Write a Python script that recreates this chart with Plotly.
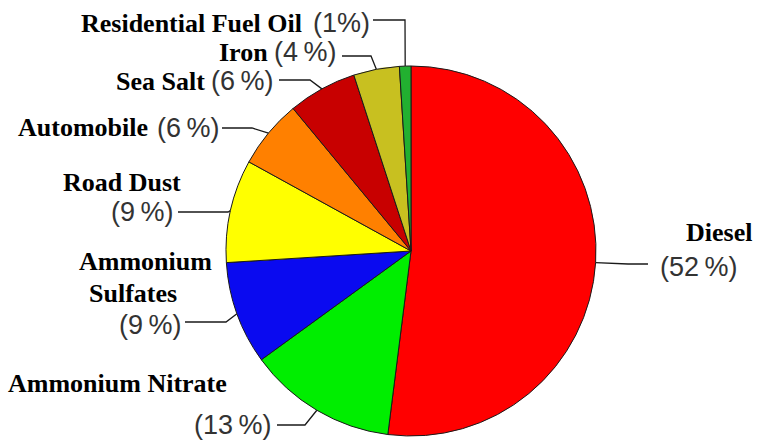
import math
import plotly.graph_objects as go

# Source shares of fine particulate matter (%)
sources = ["Diesel", "Ammonium Nitrate", "Ammonium Sulfates", "Road Dust",
           "Automobile", "Sea Salt", "Iron", "Residential Fuel Oil"]
shares = [52, 13, 9, 9, 6, 6, 4, 1]
pct_labels = ["(52\u2009%)", "(13\u2009%)", "(9\u2009%)", "(9\u2009%)",
              "(6\u2009%)", "(6\u2009%)", "(4\u2009%)", "(1%)"]
colors = ["#FF0000", "#00EE00", "#0A0AF0", "#FFFF00",
          "#FF8000", "#C80000", "#C8C020", "#22B030"]

W, H = 757, 444
CX, CY, R = 411, 251, 185  # pie centre and radius in pixels


def px(x):
    return x / W


def py(y):
    return 1 - y / H


fig = go.Figure(go.Pie(
    labels=sources,
    values=shares,
    sort=False,
    direction="clockwise",
    rotation=0,
    marker=dict(colors=colors, line=dict(color="#1a1a1a", width=1)),
    textinfo="none",
    hoverinfo="label+percent",
    showlegend=False,
    domain=dict(x=[px(CX - R), px(CX + R)], y=[py(CY + R), py(CY - R)]),
))

# Rim point at the middle of each slice
total = sum(shares)
rim = []
cum = 0
for v in shares:
    a = (cum + v / 2) / total * 2 * math.pi
    rim.append((CX + R * math.sin(a), CY - R * math.cos(a)))
    cum += v

# Label layout: (name lines [(text, x, y, xanchor)], percent (x, y, xanchor),
#                leader line start, elbow)
layout_spec = {
    "Diesel": ([("Diesel", 753, 232, "right")], (659, 267, "left"), (648, 264), (628, 264)),
    "Ammonium Nitrate": ([("Ammonium Nitrate", 228, 383, "right")], (272, 425, "right"),
                         (277, 425), (305, 425)),
    "Ammonium Sulfates": ([("Ammonium", 213, 261, "right"), ("Sulfates", 178, 293, "right")],
                          (182, 325, "right"), (185, 322), (226, 322)),
    "Road Dust": ([("Road Dust", 182, 182, "right")], (174, 212, "right"), (178, 212), (228, 212)),
    "Automobile": ([("Automobile", 149, 128, "right")], (220, 128, "right"), (222, 128), (252, 128)),
    "Sea Salt": ([("Sea Salt", 206, 81, "right")], (274, 81, "right"), (279, 80), (310, 80)),
    "Iron": ([("Iron", 269, 52, "right")], (337, 52, "right"), (342, 56), (371, 56)),
    "Residential Fuel Oil": ([("Residential Fuel Oil", 303, 23, "right")], (371, 23, "right"),
                             (373, 20), (405, 20)),
}

name_font = dict(family="Liberation Serif", size=26, color="black", weight="bold")
pct_font = dict(family="Liberation Sans", size=27, color="#333333")

annotations = []
shapes = []
for i, name in enumerate(sources):
    lines, (pxx, pyy, pan), start, elbow = layout_spec[name]
    for text, x, y, anchor in lines:
        annotations.append(dict(text=text, x=px(x), y=py(y), xref="paper", yref="paper",
                                xanchor=anchor, yanchor="middle", showarrow=False,
                                borderpad=0, font=name_font))
    annotations.append(dict(text=pct_labels[i], x=px(pxx), y=py(pyy), xref="paper",
                            yref="paper", xanchor=pan, yanchor="middle", showarrow=False,
                            borderpad=0, font=pct_font))
    pts = [start, elbow, rim[i]]
    path = "M " + " L ".join(f"{px(x):.5f},{py(y):.5f}" for x, y in pts)
    shapes.append(dict(type="path", path=path, xref="paper", yref="paper",
                       line=dict(color="#1a1a1a", width=1.3)))

fig.update_layout(
    width=W, height=H,
    margin=dict(l=0, r=0, t=0, b=0),
    paper_bgcolor="white",
    plot_bgcolor="white",
    annotations=annotations,
    shapes=shapes,
)

fig.write_html("out.html")
